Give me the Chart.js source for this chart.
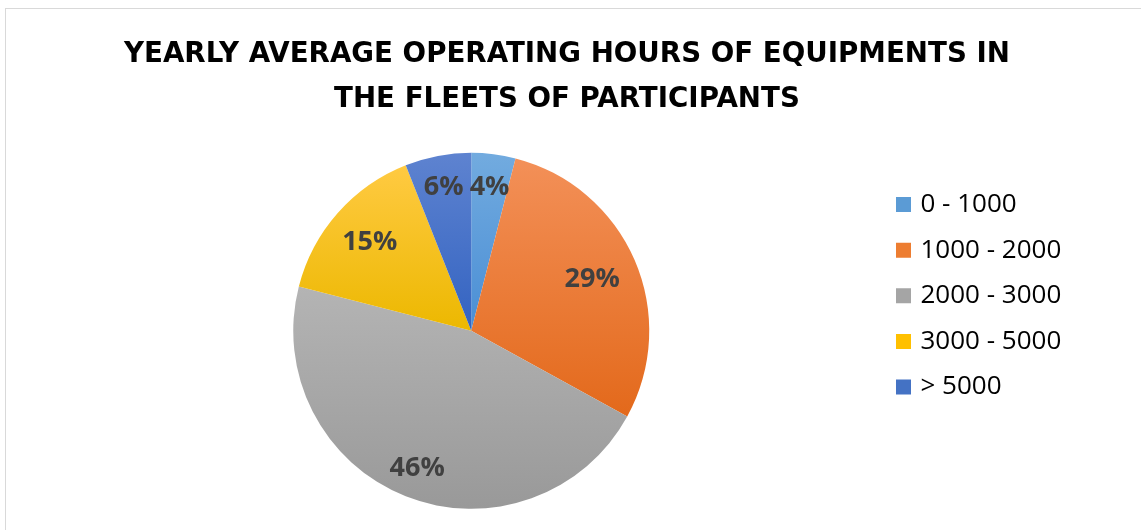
<!DOCTYPE html>
<html>
<head>
<meta charset="utf-8">
<title>Yearly average operating hours</title>
<script src="https://cdn.jsdelivr.net/npm/chart.js@4.4.1/dist/chart.umd.min.js"></script>
<style>
  html, body { margin: 0; padding: 0; background: #fff; }
  body { width: 1141px; height: 530px; overflow: hidden; position: relative; }
  .frame { position: absolute; left: 5px; top: 8px; width: 1200px; height: 600px; border: 1px solid #d9d9d9; }
  .wrap { position: absolute; left: 0; top: 0; width: 1141px; height: 530px; }
</style>
</head>
<body>
<div class="frame"></div>
<div class="wrap"><canvas id="pie"></canvas></div>
<script>
const titleLines = ["YEARLY AVERAGE OPERATING HOURS OF EQUIPMENTS IN", "THE FLEETS OF PARTICIPANTS"];
const hourBands = ["0 - 1000", "1000 - 2000", "2000 - 3000", "3000 - 5000", "> 5000"];
const shares = [4, 29, 46, 15, 6];

// office-style fills: flat colour for the legend, light->dark for each slice
const baseColors = ["#5b9bd5", "#ed7d31", "#a5a5a5", "#ffc000", "#4472c4"];
const gradTop    = ["#72abdf", "#f39058", "#b4b4b4", "#ffca42", "#5e83d0"];
const gradBottom = ["#4a8ed5", "#e3691b", "#999999", "#ecb800", "#3363c1"];

// how far out (fraction of radius) each percentage sits
const labelDist = [0.82, 0.74, 0.826, 0.76, 0.827];

const sliceGradient = {
  id: "sliceGradient",
  beforeDatasetsDraw(chart){
    const ctx = chart.ctx;
    chart.getDatasetMeta(0).data.forEach((arc, i) => {
      const { x, y, startAngle, endAngle, outerRadius } =
        arc.getProps(["x", "y", "startAngle", "endAngle", "outerRadius"]);
      let top = y, bottom = y;
      for (let k = 0; k <= 48; k++){
        const a = startAngle + (endAngle - startAngle) * k / 48;
        const py = y + Math.sin(a) * outerRadius;
        top = Math.min(top, py);
        bottom = Math.max(bottom, py);
      }
      const g = ctx.createLinearGradient(0, top, 0, bottom);
      g.addColorStop(0, gradTop[i]);
      g.addColorStop(1, gradBottom[i]);
      arc.options.backgroundColor = g;
    });
  }
};

const pctLabels = {
  id: "pctLabels",
  afterDatasetsDraw(chart){
    const ctx = chart.ctx;
    ctx.save();
    ctx.font = "bold 27px 'Open Sans'";
    ctx.fillStyle = "#404040";
    ctx.textAlign = "center";
    ctx.textBaseline = "middle";
    chart.getDatasetMeta(0).data.forEach((arc, i) => {
      const { x, y, startAngle, endAngle, outerRadius } =
        arc.getProps(["x", "y", "startAngle", "endAngle", "outerRadius"]);
      const mid = (startAngle + endAngle) / 2;
      const r = outerRadius * labelDist[i];
      ctx.fillText(shares[i] + "%", x + Math.cos(mid) * r, y + Math.sin(mid) * r + 1);
    });
    ctx.restore();
  }
};

new Chart(document.getElementById("pie"), {
  type: "pie",
  data: {
    labels: hourBands,
    datasets: [{
      data: shares,
      backgroundColor: baseColors,
      borderWidth: 0,
      hoverOffset: 0
    }]
  },
  options: {
    responsive: true,
    maintainAspectRatio: false,
    animation: false,
    layout: { padding: { left: 62.6, right: 69.7, top: 0, bottom: 21.2 } },
    plugins: {
      title: {
        display: true,
        text: titleLines,
        color: "#000",
        font: { family: "DejaVu Sans", weight: "bold", size: 27.7, lineHeight: "45px" },
        padding: { top: 32.5, bottom: 30.3 }
      },
      legend: {
        position: "right",
        align: "start",
        // empty title only pushes the rows down to sit beside the pie
        title: { display: true, text: "", font: { size: 10, lineHeight: 1 }, padding: { top: 0, bottom: 162 } },
        labels: {
          usePointStyle: true,
          pointStyle: "rect",
          boxWidth: 8,
          boxHeight: 15,
          padding: 19.6,
          color: "#000",
          font: { family: "Open Sans", size: 26 }
        }
      },
      tooltip: { enabled: false }
    }
  },
  plugins: [sliceGradient, pctLabels]
});
</script>
</body>
</html>
